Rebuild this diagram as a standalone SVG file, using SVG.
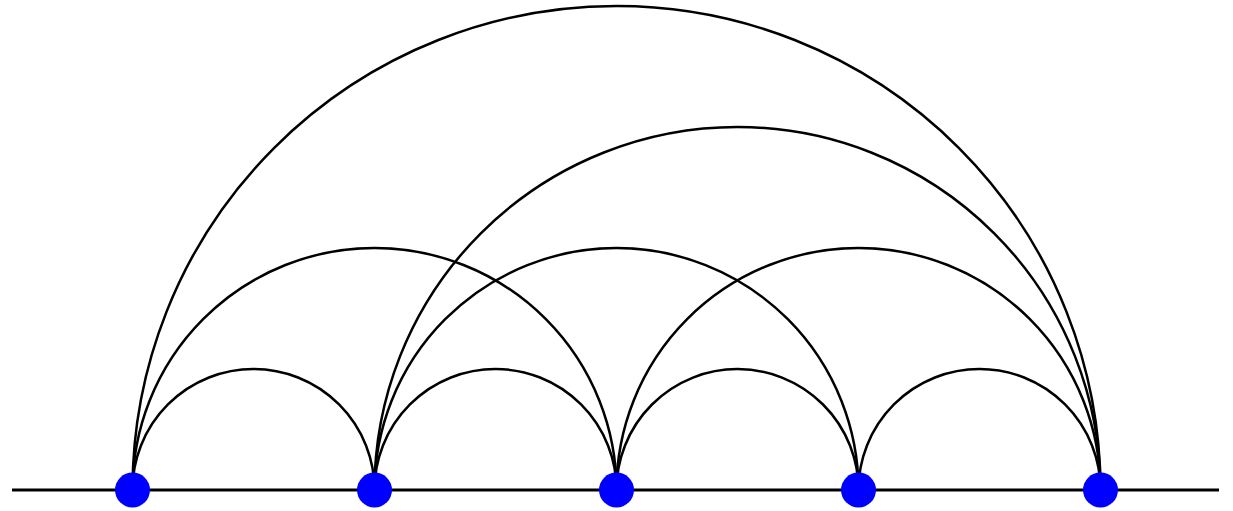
<svg xmlns="http://www.w3.org/2000/svg" width="1233" height="511" viewBox="0 0 1233 511">
<style>
.arc{fill:none;stroke:#000;stroke-width:2.5}
.base{stroke:#000;stroke-width:3}
.node{fill:#0000ff}
</style>
<rect width="1233" height="511" fill="#fff"/>
<g id="connectors">
<line class="base" x1="12" y1="490" x2="1219" y2="490"/>
<path class="arc" d="M132.5,490 A121,121 0 0 1 374.5,490"/>
<path class="arc" d="M374.5,490 A121,121 0 0 1 616.5,490"/>
<path class="arc" d="M616.5,490 A121,121 0 0 1 858.5,490"/>
<path class="arc" d="M858.5,490 A121,121 0 0 1 1100.5,490"/>
<path class="arc" d="M132.5,490 A242,242 0 0 1 616.5,490"/>
<path class="arc" d="M374.5,490 A242,242 0 0 1 858.5,490"/>
<path class="arc" d="M616.5,490 A242,242 0 0 1 1100.5,490"/>
<path class="arc" d="M374.5,490 A363,363 0 0 1 1100.5,490"/>
<path class="arc" d="M132.5,490 A484,484 0 0 1 1100.5,490"/>
</g>
<g id="n1"><circle class="node" cx="132.5" cy="490" r="17.5"/></g>
<g id="n2"><circle class="node" cx="374.5" cy="490" r="17.5"/></g>
<g id="n3"><circle class="node" cx="616.5" cy="490" r="17.5"/></g>
<g id="n4"><circle class="node" cx="858.5" cy="490" r="17.5"/></g>
<g id="n5"><circle class="node" cx="1100.5" cy="490" r="17.5"/></g>
</svg>
